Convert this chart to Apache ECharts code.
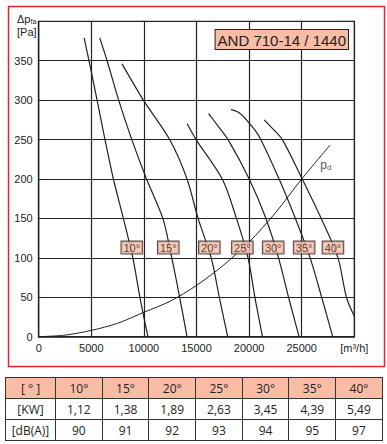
<!DOCTYPE html>
<html>
<head>
<meta charset="utf-8">
<script src="https://cdn.jsdelivr.net/npm/echarts@6/dist/echarts.min.js"></script>
<style>
  html, body { margin: 0; padding: 0; background: #fff; }
  #chart { position: absolute; left: 0; top: 0; width: 387px; height: 444px; }
  #tbl { position: absolute; left: 5px; top: 377px; border-collapse: collapse; font-family: "Open Sans", "Noto Sans", sans-serif; font-size: 12px; color: #222; table-layout: fixed; }
  #tbl td { border: 1px solid #333; text-align: center; height: 20px; padding: 0; }
  #tbl tr.h td { background: #f9bda6; }
</style>
</head>
<body>
<div id="chart"></div>
<table id="tbl"></table>
<script>
// ---- data ----
const angles = ['10°', '15°', '20°', '25°', '30°', '35°', '40°'];
const kw = ['1,12', '1,38', '1,89', '2,63', '3,45', '4,39', '5,49'];
const dba = ['90', '91', '92', '93', '94', '95', '97'];

const xTickValues = [0, 5000, 10000, 15000, 20000, 25000, 30000];
const yTickValues = [0, 50, 100, 150, 200, 250, 300, 350, 400];

const curve10 = [[4320,379],[4780,350],[5550,300],[6300,250],[7100,200],[8050,150],[8950,100],[9620,50],[10380,0]];
const curve15 = [[5800,379],[6500,350],[7600,300],[8850,250],[10250,200],[11800,150],[12650,100],[13400,50],[14100,0]];
const curve20 = [[7920,346],[9950,300],[12450,250],[14100,200],[15150,150],[16400,100],[17170,50],[17960,0]];
const curve25 = [[14110,270],[14960,250],[17450,200],[18800,150],[19900,100],[20550,50],[21270,0]];
const curve30 = [[16150,283],[17000,268],[18000,250],[20010,200],[21600,150],[22800,100],[23750,50],[24750,0]];
const curve35 = [[18280,288],[19060,284],[20010,271],[20960,254],[22850,200],[24400,150],[25800,100],[26900,50],[27950,0]];
const curve40 = [[21430,275],[22300,263],[23160,250],[25050,200],[26850,150],[28450,100],[29250,50],[30000,26]];
const curvePd = [[0,0],[2500,2],[5000,8],[7500,17],[10000,31],[12500,45],[15000,65],[17500,90],[20000,120],[22500,157],[25000,200],[27700,243]];

const labelX = [8850, 12320, 16220, 19360, 22290, 25230, 27970];
const labelY = 113;
const pdLabelPos = [27300, 218];

const title = 'AND 710-14 / 1440';

// ---- table ----
const tbl = document.getElementById('tbl');
function addRow(head, vals, cls) {
  const tr = document.createElement('tr');
  if (cls) tr.className = cls;
  const th = document.createElement('td');
  th.textContent = head; th.style.width = '49px';
  tr.appendChild(th);
  vals.forEach(v => { const td = document.createElement('td'); td.textContent = v; td.style.width = '45.7px'; tr.appendChild(td); });
  tbl.appendChild(tr);
}
addRow('[ ° ]', angles, 'h');
addRow('[KW]', kw);
addRow('[dB(A)]', dba);

// ---- chart ----
const chart = echarts.init(document.getElementById('chart'), null, { renderer: 'svg' });
const curves = [curve10, curve15, curve20, curve25, curve30, curve35, curve40];
const lineStyle = { color: '#222', width: 1.2 };
const series = curves.map((c, i) => ({
  name: angles[i], type: 'line', data: c, smooth: 0.3, symbol: 'none',
  lineStyle: lineStyle, z: 3, silent: true
}));
series.push({ name: 'pd', type: 'line', data: curvePd, smooth: 0.3, symbol: 'none', lineStyle: { color: '#222', width: 1 }, z: 3 });
series.push({
  type: 'scatter', symbolSize: 0, z: 5,
  data: labelX.map((x, i) => ({ value: [x, labelY], name: angles[i] })),
  label: {
    show: true, position: 'inside', formatter: p => p.name,
    fontFamily: 'Liberation Sans, Arial, sans-serif', fontSize: 11, color: '#222',
    backgroundColor: '#f9bda6', borderColor: '#222', borderWidth: 1, padding: [1, 2, 0, 2]
  }
});
series.push({
  type: 'scatter', symbolSize: 0, z: 5,
  data: [{ value: pdLabelPos, name: 'pd' }],
  label: {
    show: true, position: 'inside', formatter: '{p|p}{d|d}',
    rich: {
      p: { fontFamily: 'Liberation Sans, Arial, sans-serif', fontSize: 12, color: '#222' },
      d: { fontFamily: 'Liberation Sans, Arial, sans-serif', fontSize: 8, color: '#222', verticalAlign: 'bottom', padding: [5, 0, 0, 0] }
    }
  }
});

chart.setOption({
  animation: false,
  grid: { left: 38.7, right: 32.7, top: 21.3, bottom: 107.3, show: true, borderColor: '#222', borderWidth: 1.2 },
  xAxis: {
    type: 'value', min: xTickValues[0], max: xTickValues[xTickValues.length - 1], interval: 5000,
    axisLine: { show: true, lineStyle: { color: '#222', width: 1.5 } },
    axisTick: { show: false },
    splitLine: { show: true, lineStyle: { color: '#222', width: 1.2 } },
    axisLabel: {
      margin: 6, fontFamily: 'Liberation Sans, Arial, sans-serif', fontSize: 11, color: '#222',
      formatter: v => v === 30000 ? '[m³/h]' : String(v)
    }
  },
  yAxis: {
    type: 'value', min: yTickValues[0], max: yTickValues[yTickValues.length - 1], interval: 50,
    axisLine: { show: true, lineStyle: { color: '#222', width: 1.2 } },
    axisTick: { show: false },
    splitLine: { show: true, lineStyle: { color: '#222', width: 1.2 } },
    axisLabel: {
      margin: 6, fontFamily: 'Liberation Sans, Arial, sans-serif', fontSize: 11, color: '#222',
      formatter: v => v === 400 ? '' : String(v)
    }
  },
  series: series,
  graphic: [
    { type: 'rect', left: 6, top: 4, shape: { width: 376, height: 360 }, style: { fill: 'none', stroke: '#e8202a', lineWidth: 1.5 }, z: 10 },
    {
      type: 'text', left: 17, top: 13, z: 10,
      style: {
        text: '{a|Δp}{s|fa}\n{a|[Pa]}',
        rich: {
          a: { fontFamily: 'Liberation Sans, Arial, sans-serif', fontSize: 11, fill: '#222', lineHeight: 13 },
          s: { fontFamily: 'Liberation Sans, Arial, sans-serif', fontSize: 7, fill: '#222', padding: [5, 0, 0, 0] }
        }
      }
    },
    {
      type: 'text', right: 38, top: 29, z: 10,
      style: {
        text: title, fontFamily: 'Liberation Sans, Arial, sans-serif', fontSize: 15, fill: '#222',
        backgroundColor: '#f9bda6', borderColor: '#222', borderWidth: 1, padding: [3, 2, 1, 2]
      }
    }
  ]
});
</script>
</body>
</html>
